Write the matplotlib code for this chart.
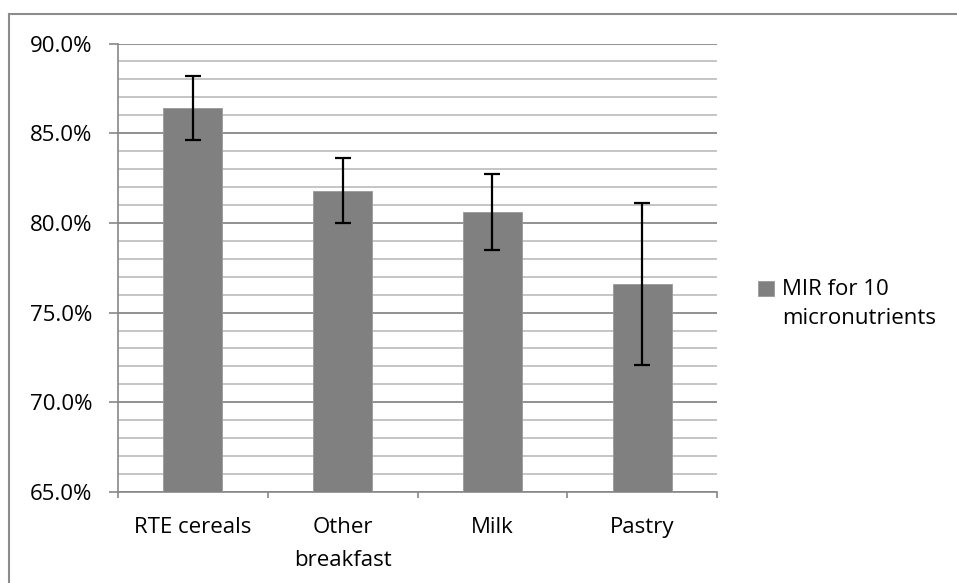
import matplotlib
matplotlib.use("Agg")
import matplotlib.pyplot as plt
from matplotlib.lines import Line2D
from matplotlib.patches import Rectangle
from matplotlib.legend_handler import HandlerPatch
from matplotlib.ticker import MultipleLocator, FuncFormatter

categories = ["RTE cereals", "Other\nbreakfast", "Milk", "Pastry"]
values = [86.4, 81.8, 80.6, 76.6]
errors = [1.8, 1.8, 2.1, 4.5]
series_name = "MIR for 10\nmicronutrients"

plt.rcParams['font.family'] = ['Open Sans', 'DejaVu Sans']

fig = plt.figure(figsize=(9.57, 5.83), dpi=100)
ax = fig.add_axes([118/957, 1-492/583, (717-118)/957, (492-43.5)/583])

x = list(range(len(categories)))
bars = ax.bar(x, [v - 65 for v in values], bottom=65, width=0.395, color="#808080",
              edgecolor="#999999", linewidth=0.6, zorder=3, label=series_name)
ax.errorbar(x, values, yerr=errors, fmt="none", ecolor="black", elinewidth=1.6,
            capsize=6, capthick=1.6, zorder=4)

ax.set_xlim(-0.5, 3.5)
ax.set_ylim(65, 90)
ax.yaxis.set_major_locator(MultipleLocator(5))
ax.yaxis.set_minor_locator(MultipleLocator(1))
ax.yaxis.set_major_formatter(FuncFormatter(lambda v, p: f"{v:.1f}%"))
ax.grid(which="major", axis="y", color="#888888", linewidth=1.3, zorder=0)
ax.grid(which="minor", axis="y", color="#c0c0c0", linewidth=1.3, zorder=0)
ax.set_xticks(x)
ax.set_xticklabels(categories, fontsize=16, linespacing=1.75)
ax.set_xticks([i + 0.5 for i in range(-1, 4)], minor=True)
ax.tick_params(axis="x", which="major", length=0, pad=18)
ax.tick_params(axis="x", which="minor", length=4.5, color="#888888", width=1.2)
ax.tick_params(axis="y", which="major", length=6.5, color="#888888", width=1.2, labelsize=16, pad=12)
ax.tick_params(axis="y", which="minor", length=0)
for s in ["top", "right"]:
    ax.spines[s].set_visible(False)
for s in ["left", "bottom"]:
    ax.spines[s].set_color("#888888")
    ax.spines[s].set_linewidth(1.2)


def square_top(legend, orig_handle, xdescent, ydescent, width, height, fontsize):
    return Rectangle((-xdescent, -ydescent + 0.7 * fontsize), width, height)


handle = bars.patches[0]
leg = fig.legend([handle], [series_name], loc="center left", bbox_to_anchor=(738/957, 1-304/583),
                 frameon=False, fontsize=16, handlelength=0.7, handleheight=0.7,
                 handletextpad=0.4,
                 handler_map={handle: HandlerPatch(patch_func=square_top)})
for t in leg.get_texts():
    t.set_linespacing(1.5)

# outer chart border
fig.add_artist(Line2D([9/957, 9/957], [0, 1-14/583], color="#8c8c8c", linewidth=1.5, transform=fig.transFigure))
fig.add_artist(Line2D([9/957, 1], [1-14/583, 1-14/583], color="#8c8c8c", linewidth=1.5, transform=fig.transFigure))

fig.savefig("out.png", dpi=100)
